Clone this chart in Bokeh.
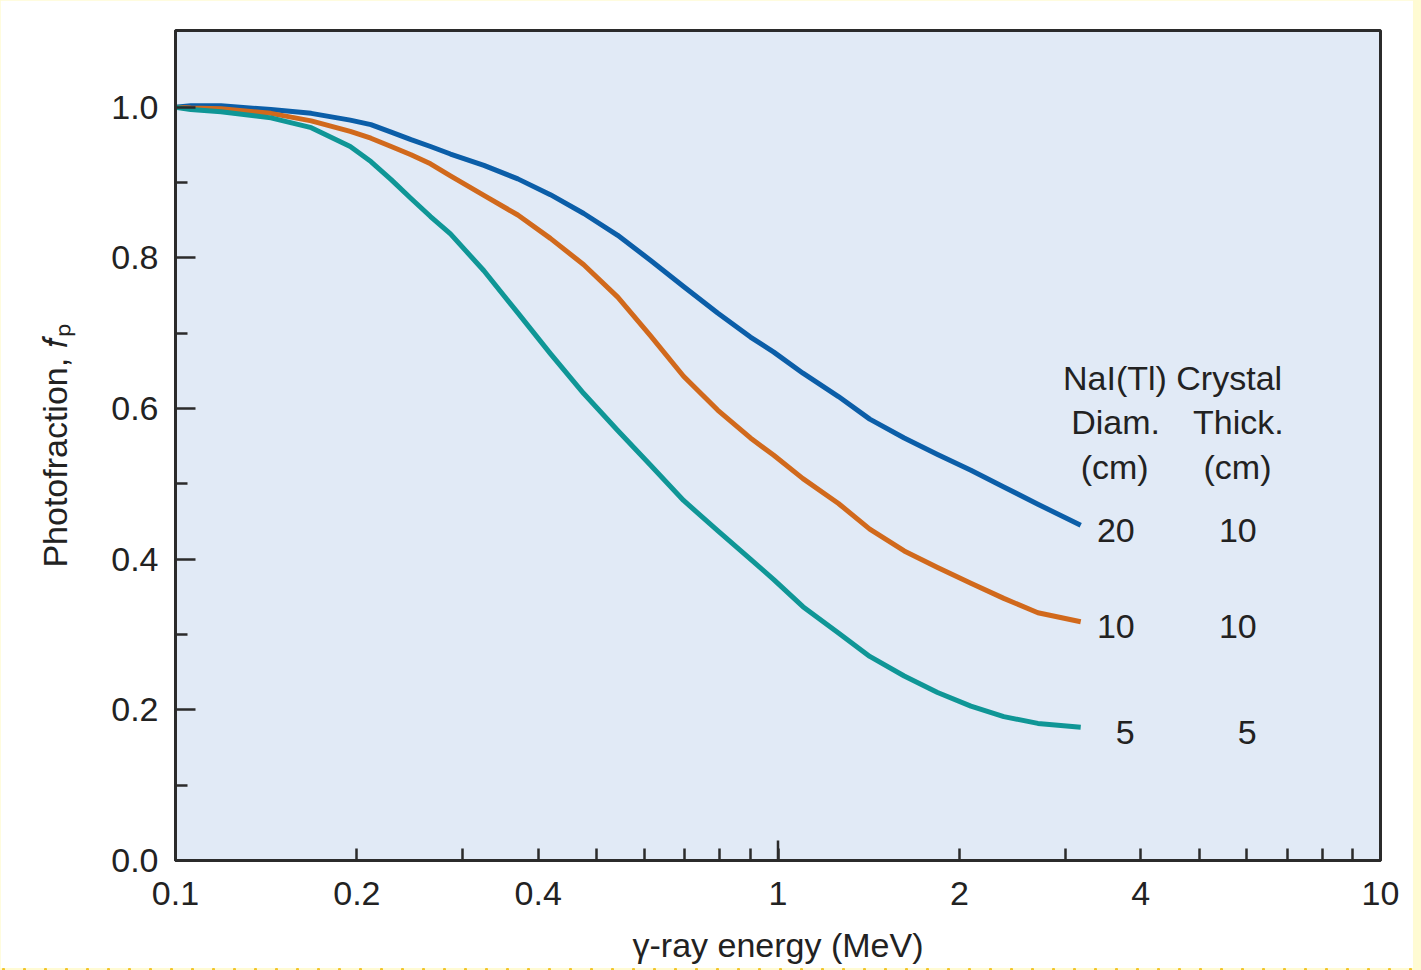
from bokeh.plotting import figure
from bokeh.models import (FixedTicker, CustomJSTickFormatter, PrintfTickFormatter,
                          Range1d, ColumnDataSource, GlobalInlineStyleSheet)
from bokeh.core.properties import value
from bokeh.embed import file_html
from bokeh.resources import INLINE

# ---------------- data ----------------
energy_mev = [0.100, 0.106, 0.119, 0.144, 0.168, 0.195, 0.211, 0.228, 0.246, 0.265,
              0.286, 0.325, 0.370, 0.419, 0.476, 0.542, 0.614, 0.697, 0.794, 0.900,
              0.984, 1.10, 1.26, 1.42, 1.62, 1.84, 2.09, 2.37, 2.70, 3.18]
fp_20x10 = [1.000, 1.002, 1.002, 0.997, 0.992, 0.983, 0.977, 0.967, 0.957, 0.948,
            0.938, 0.923, 0.905, 0.884, 0.859, 0.830, 0.797, 0.762, 0.727, 0.695,
            0.675, 0.647, 0.616, 0.586, 0.561, 0.539, 0.518, 0.496, 0.473, 0.445]
fp_10x10 = [1.000, 0.999, 0.998, 0.992, 0.982, 0.968, 0.959, 0.948, 0.937, 0.925,
            0.909, 0.883, 0.857, 0.826, 0.791, 0.748, 0.697, 0.643, 0.598, 0.561,
            0.538, 0.507, 0.474, 0.440, 0.411, 0.389, 0.368, 0.348, 0.329, 0.317]
fp_5x5 = [1.000, 0.997, 0.994, 0.986, 0.973, 0.948, 0.928, 0.904, 0.879, 0.855,
          0.832, 0.783, 0.727, 0.673, 0.620, 0.571, 0.525, 0.478, 0.438, 0.400,
          0.373, 0.337, 0.302, 0.271, 0.245, 0.223, 0.205, 0.191, 0.182, 0.177]

diam_cm = ["20", "10", "5"]
thick_cm = ["10", "10", "5"]
series_colors = ["#0b5ea8", "#d1691c", "#0f9696"]

x_major = [0.1, 0.2, 0.4, 1, 2, 4, 10]
x_minor = [0.3, 0.5, 0.6, 0.7, 0.8, 0.9, 3, 5, 6, 7, 8, 9]
y_major = [0.0, 0.2, 0.4, 0.6, 0.8, 1.0]
y_minor = [0.1, 0.3, 0.5, 0.7, 0.9]

header_title = "NaI(Tl) Crystal"
header_cols = ["Diam.", "Thick."]
header_units = ["(cm)", "(cm)"]

FONT = "Liberation Sans"
TXT = "#222222"
FS = "34px"

# ---------------- figure ----------------
p = figure(width=1413, height=968, x_axis_type="log",
           x_range=Range1d(0.1, 10), y_range=Range1d(0, 1.102),
           output_backend="svg", toolbar_location=None,
           min_border_left=175, min_border_right=33, min_border_top=30, min_border_bottom=108,
           background_fill_color="#e1eaf6", border_fill_color="white",
           outline_line_color="#2b2b2b", outline_line_width=3)
p.grid.visible = False

p.stylesheets = [GlobalInlineStyleSheet(css=(
    "body{background-color:#fffbd3;"
    "background-image:radial-gradient(#f3c52a 1.3px, transparent 1.8px);"
    "background-size:21px 21px;background-position:-7px -7px;}"))]

for ax in (p.xaxis[0], p.yaxis[0]):
    ax.axis_line_color = "#2b2b2b"
    ax.axis_line_width = 3
    ax.major_tick_line_color = "#2b2b2b"
    ax.minor_tick_line_color = "#2b2b2b"
    ax.major_tick_line_width = 2.5
    ax.minor_tick_line_width = 2.5
    ax.major_tick_out = 0
    ax.minor_tick_out = 0
    ax.major_label_text_font = FONT
    ax.major_label_text_font_size = FS
    ax.major_label_text_color = TXT
    ax.axis_label_text_font = FONT
    ax.axis_label_text_font_size = FS
    ax.axis_label_text_font_style = "normal"
    ax.axis_label_text_color = TXT

xa = p.xaxis[0]
xa.ticker = FixedTicker(ticks=x_major, minor_ticks=x_minor)
xa.formatter = CustomJSTickFormatter(code="return tick.toString();")
xa.major_tick_in = 12
xa.minor_tick_in = 12
xa.major_label_standoff = 21
xa.axis_label = "γ-ray energy (MeV)"
xa.axis_label_standoff = 18

ya = p.yaxis[0]
ya.ticker = FixedTicker(ticks=y_major, minor_ticks=y_minor)
ya.formatter = PrintfTickFormatter(format="%.1f")
ya.major_tick_in = 20
ya.minor_tick_in = 12
ya.major_label_standoff = 17
ya.axis_label = "Photofraction, 𝑓ₚ"
ya.axis_label_standoff = 34

# longer tick at the decade 1 MeV
p.segment(x0=[1], y0=[0], x1=[1], y1=[20 / 830 * 1.102], line_color="#2b2b2b", line_width=2.5)

# ---------------- curves ----------------
series = [fp_20x10, fp_10x10, fp_5x5]
for ys, c in zip(series, series_colors):
    p.line(energy_mev, ys, line_color=c, line_width=5, line_join="round")

# end labels (diameter / thickness), tied to the curve ends
end_x = [energy_mev[-1]] * 3
end_y = [s[-1] for s in series]
src = ColumnDataSource(dict(x=end_x, y=end_y, d=diam_cm, t=thick_cm))
p.text(x="x", y="y", text="d", source=src, x_offset=54, y_offset=5,
       text_align="right", text_baseline="middle", text_font=value(FONT),
       text_font_size=FS, text_color=TXT)
p.text(x="x", y="y", text="t", source=src, x_offset=176, y_offset=5,
       text_align="right", text_baseline="middle", text_font=value(FONT),
       text_font_size=FS, text_color=TXT)

# header block
hdr = ColumnDataSource(dict(
    x=[4.517, 3.633, 5.81, 3.62, 5.79],
    y=[0.641, 0.582, 0.582, 0.522, 0.522],
    t=[header_title] + header_cols + header_units))
p.text(x="x", y="y", text="t", source=hdr, text_align="center", text_baseline="middle",
       text_font=value(FONT), text_font_size=FS, text_color=TXT)

open("out.html", "w").write(file_html(p, INLINE))
